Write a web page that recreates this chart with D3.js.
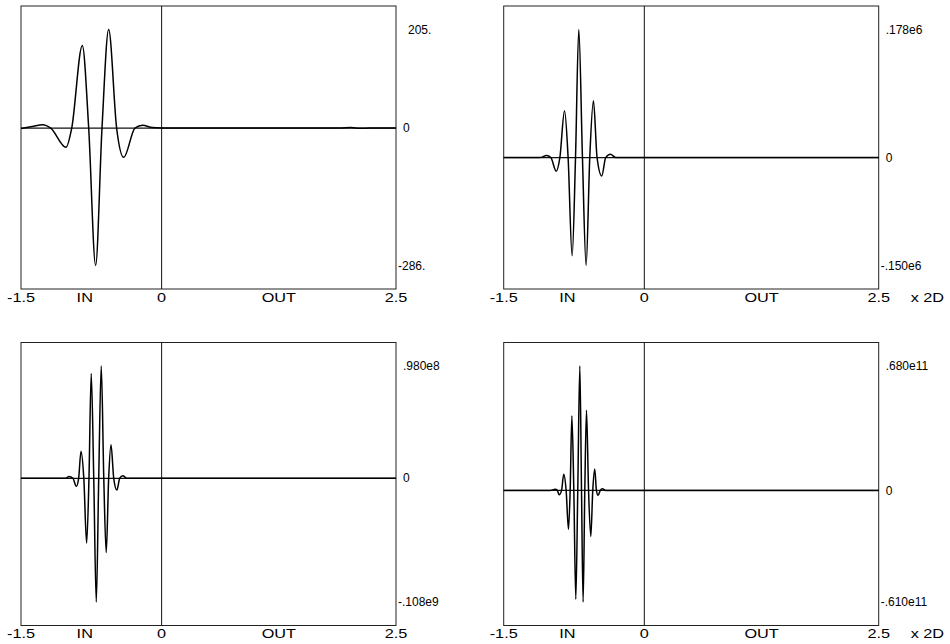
<!DOCTYPE html>
<html>
<head>
<meta charset="utf-8">
<script src="https://cdn.jsdelivr.net/npm/d3@7"></script>
<style>
  html, body { margin: 0; padding: 0; background: #fff; }
  svg { display: block; }
  text { font-family: "Liberation Sans", Arial, sans-serif; fill: #000; }
</style>
</head>
<body>
<svg id="chart" width="950" height="644"></svg>
<script>
// ---------- DATA ----------
// x in units of the axis (-1.5 .. 2.5), values in the units of the labels
const xTicks = [-1.5, 0, 2.5];
const xTickLabels = ["-1.5", "0", "2.5"];
const regionLabels = ["IN", "OUT"];
const regionPos = [-0.82, 1.25];

// Panel 1 (top-left)
const p1X = [-1.5, -1.38, -1.269, -1.183, -1.020, -0.959, -0.846, -0.778, -0.704, -0.636, -0.565, -0.480, -0.405, -0.284, -0.203, -0.10, 0, 1.90, 2.02, 2.12, 2.22, 2.5];
const p1Y = [-1, 3, 7, 0, -40, 0, 172, 0, -286, 0, 205, 0, -61, 0, 5.6, 1, 0, 0, 1, -0.5, 0, 0];
const p1Labels = ["205.", "0", "-286."];
const p1Ext = [205, -286];

// Panel 2 (top-right), values in thousands (.178e6 = 178 thousand)
const p2X = [-1.5, -1.22, -1.114, -1.043, -0.997, -0.940, -0.901, -0.851, -0.813, -0.770, -0.734, -0.699, -0.660, -0.621, -0.582, -0.543, -0.504, -0.454, -0.412, -0.362, -0.305, 0, 2.5];
const p2Y = [0, 0, 0, 2.8, 0, -19, 0, 65, 0, -136.6, 0, 178, 0, -150, 0, 79, 0, -25.5, 0, 4.7, 0, 0, 0];
const p2Labels = [".178e6", "0", "-.150e6"];
const p2Ext = [178, -150];

// Panel 3 (bottom-left), values in millions (.980e8 = 98 million)
const p3X = [-1.5, -1.084, -1.020, -0.988, -0.946, -0.910, -0.885, -0.860, -0.830, -0.800, -0.775, -0.751, -0.724, -0.697, -0.671, -0.644, -0.617, -0.591, -0.565, -0.540, -0.511, -0.477, -0.447, -0.413, -0.370, 0, 2.5];
const p3Y = [0, 0, 0, 1.5, 0, -7, 0, 23.7, 0, -56.7, 0, 91.6, 0, -108, 0, 98, 0, -64.9, 0, 29.3, 0, -10.2, 0, 2.1, 0, 0, 0];
const p3Labels = [".980e8", "0", "-.108e9"];
const p3Ext = [98, -108];

// Panel 4 (bottom-right), values in billions (.680e11 = 68 billion)
const p4X = [-1.5, -1.007, -0.951, -0.928, -0.909, -0.883, -0.859, -0.834, -0.809, -0.791, -0.773, -0.752, -0.731, -0.710, -0.688, -0.670, -0.653, -0.635, -0.617, -0.595, -0.571, -0.550, -0.529, -0.511, -0.493, -0.470, -0.447, -0.412, 0, 2.5];
const p4Y = [0, 0, 0.6, 0, -2.4, 0, 8.9, 0, -21.3, 0, 40.8, 0, -59.6, 0, 68, 0, -61, 0, 43.9, 0, -25.2, 0, 11.7, 0, -2.7, 0, 0.9, 0, 0, 0];
const p4Labels = [".680e11", "0", "-.610e11"];
const p4Ext = [68, -61];

const unitLabel = "x 2D";

// ---------- LAYOUT ----------
const svg = d3.select("#chart");
const colLeft = [21, 503.7];
const rowTop = [6, 342.5];
const pw = 375, ph = 283;

const panels = [
  { xs: p1X, ys: p1Y, labels: p1Labels, ext: p1Ext, col: 0, row: 0, unit: false },
  { xs: p2X, ys: p2Y, labels: p2Labels, ext: p2Ext, col: 1, row: 0, unit: true },
  { xs: p3X, ys: p3Y, labels: p3Labels, ext: p3Ext, col: 0, row: 1, unit: false },
  { xs: p4X, ys: p4Y, labels: p4Labels, ext: p4Ext, col: 1, row: 1, unit: true }
];

panels.forEach(p => {
  const left = colLeft[p.col], top = rowTop[p.row];
  const [mx, mn] = p.ext;
  const pad = 0.1 * (mx - mn);
  const x = d3.scaleLinear().domain([-1.5, 2.5]).range([left, left + pw]);
  const y = d3.scaleLinear().domain([mn - pad, mx + pad]).range([top + ph, top]);
  const g = svg.append("g");

  // frame
  g.append("rect")
    .attr("x", x(-1.5)).attr("y", y(mx + pad))
    .attr("width", x(2.5) - x(-1.5)).attr("height", y(mn - pad) - y(mx + pad))
    .attr("fill", "none").attr("stroke", "#222").attr("stroke-width", 1);

  // vertical line at 0
  g.append("line")
    .attr("x1", x(0)).attr("x2", x(0))
    .attr("y1", y(mx + pad)).attr("y2", y(mn - pad))
    .attr("stroke", "#111").attr("stroke-width", 1);

  // zero axis
  g.append("line")
    .attr("x1", x(-1.5)).attr("x2", x(2.5))
    .attr("y1", y(0)).attr("y2", y(0))
    .attr("stroke", "#111").attr("stroke-width", 1.2);

  // waveform
  const pts = p.xs.map((d, i) => [d, p.ys[i]]);
  g.append("path")
    .datum(pts)
    .attr("fill", "none").attr("stroke", "#000").attr("stroke-width", 1.5)
    .attr("stroke-linejoin", "round")
    .attr("d", d3.line().x(d => x(d[0])).y(d => y(d[1])).curve(d3.curveMonotoneX));

  // right-side value labels
  const vals = [mx, 0, mn];
  vals.forEach((v, i) => {
    const off = v < 0 ? 2 : (v > 0 && p.col === 0 && p.row === 0 ? 12 : 7);
    g.append("text")
      .attr("x", x(2.5) + off)
      .attr("y", y(v))
      .attr("dy", "0.35em")
      .attr("font-size", 12)
      .text(p.labels[i]);
  });

  // bottom tick labels
  const by = y(mn - pad) + 12.5;
  xTicks.forEach((t, i) => {
    g.append("text")
      .attr("transform", `translate(${x(t)},${by}) scale(1.25,1)`)
      .attr("text-anchor", "middle")
      .attr("font-size", 13)
      .text(xTickLabels[i]);
  });
  regionLabels.forEach((r, i) => {
    g.append("text")
      .attr("transform", `translate(${x(regionPos[i])},${by}) scale(1.25,1)`)
      .attr("text-anchor", "middle")
      .attr("font-size", 13)
      .text(r);
  });
  if (p.unit) {
    g.append("text")
      .attr("transform", `translate(${x(2.5) + 32},${by}) scale(1.25,1)`)
      .attr("text-anchor", "start")
      .attr("font-size", 13)
      .text(unitLabel);
  }
});
</script>
</body>
</html>
